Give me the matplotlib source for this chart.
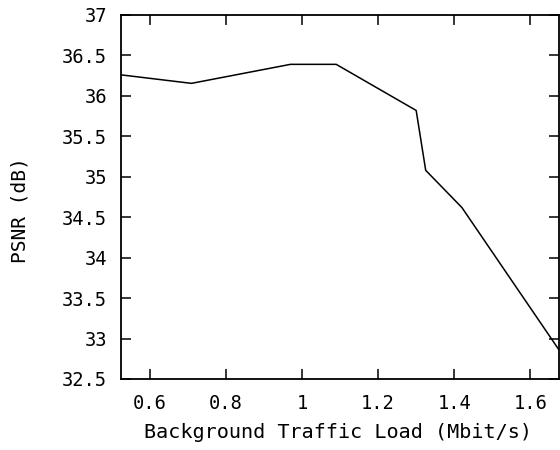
import matplotlib
matplotlib.use("Agg")
import matplotlib.pyplot as plt

# background load (Mbit/s) vs. received video quality
load = [0.525, 0.71, 0.97, 1.09, 1.30, 1.325, 1.42, 1.675]
psnr = [36.26, 36.155, 36.39, 36.39, 35.82, 35.08, 34.62, 32.86]

xticks = [0.6, 0.8, 1.0, 1.2, 1.4, 1.6]
xticklabels = ["0.6", "0.8", "1", "1.2", "1.4", "1.6"]
yticks = [32.5, 33, 33.5, 34, 34.5, 35, 35.5, 36, 36.5, 37]
yticklabels = ["32.5", "33", "33.5", "34", "34.5", "35", "35.5", "36", "36.5", "37"]

plt.rcParams["font.family"] = "DejaVu Sans Mono"

W, H = 560, 450
fig = plt.figure(figsize=(W / 100, H / 100), dpi=100)
ax = fig.add_axes([121 / W, 1 - 379 / H, (559 - 121) / W, (379 - 15) / H])

ax.plot(load, psnr, color="black", lw=1.1)

ax.set_xlim(0.525, 1.675)
ax.set_ylim(32.5, 37)
ax.set_xticks(xticks)
ax.set_xticklabels(xticklabels)
ax.set_yticks(yticks)
ax.set_yticklabels(yticklabels)

ax.tick_params(direction="in", length=7, width=1.1, top=True, right=True,
               labelsize=13.5, colors="black")
ax.tick_params(axis="x", pad=11)
ax.tick_params(axis="y", pad=10)
for s in ax.spines.values():
    s.set_linewidth(1.3)

fig.text(338 / W, 1 - 432 / H, "Background Traffic Load (Mbit/s)",
         ha="center", va="center", fontsize=14.5)
fig.text(20 / W, 1 - 210 / H, "PSNR (dB)", rotation=90,
         ha="center", va="center", fontsize=14)

fig.savefig("out.png", dpi=100)
